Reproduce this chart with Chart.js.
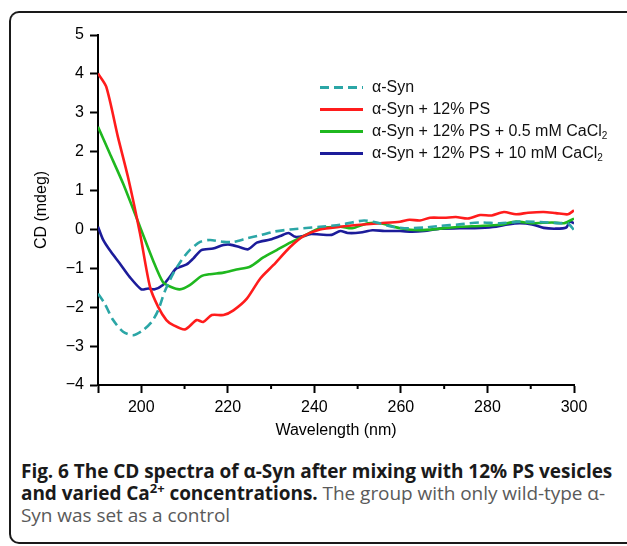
<!DOCTYPE html>
<html>
<head>
<meta charset="utf-8">
<title>CD spectra of α-Syn</title>
<script src="https://cdn.jsdelivr.net/npm/chart.js"></script>
<style>
    html, body {
        margin: 0;
        padding: 0;
        background: #fff;
        width: 627px;
        height: 546px;
        overflow: hidden;
    }
    .frame {
        position: absolute;
        left: 9px;
        top: 11px;
        width: 640px;
        height: 529px;
        border: 2px solid #1a1a1a;
        border-right: none;
        border-radius: 10px 0 0 10px;
    }
    .chart-box {
        position: absolute;
        left: 0;
        top: 0;
        width: 627px;
        height: 440px;
    }
    .legend {
        position: absolute;
        left: 320px;
        top: 76px;
        font-family: 'Liberation Sans', Arial, sans-serif;
        font-size: 16px;
        color: #111;
    }
    .legend-row {
        height: 22px;
        display: flex;
        align-items: center;
        white-space: nowrap;
    }
    .legend-line {
        width: 43px;
        height: 3px;
        margin-right: 9px;
    }
    .legend sub {
        font-size: 10px;
        vertical-align: -3px;
    }
    .caption {
        position: absolute;
        left: 21px;
        top: 460px;
        font-family: 'Open Sans', sans-serif;
        font-size: 19px;
        line-height: 22px;
        color: #5a5a5a;
        white-space: nowrap;
        letter-spacing: -0.05px;
    }
    .caption b {
        color: #1a1a1a;
    }
    .caption sup {
        font-size: 13px;
        vertical-align: 7px;
        line-height: 0;
    }
</style>
</head>
<body>
    <div class="frame"></div>
    <div class="chart-box">
        <canvas id="cdChart" width="627" height="440"></canvas>
    </div>
    <div class="legend" id="legend"></div>
    <div class="caption">
        <b>Fig. 6 The CD spectra of α-Syn after mixing with 12% PS vesicles<br>
        and varied Ca<sup>2+</sup> concentrations.</b> The group with only wild-type α-<br>
        Syn was set as a control
    </div>

    <script>
        // данные
        const seriesNames = [
            'α-Syn',
            'α-Syn + 12% PS',
            'α-Syn + 12% PS + 0.5 mM CaCl2',
            'α-Syn + 12% PS + 10 mM CaCl2'
        ];

        const synX = [190, 191.5, 193.5, 195.8, 198.1, 200.4, 202.4, 203.9, 205.4, 207.4, 209.3, 211.2, 213.6, 215.9, 219, 221.3, 224.4, 227.5, 230.5, 234.4, 237.5, 241.3, 246, 248.7, 251.5, 254.3, 258, 261.7, 265.4, 269, 273.6, 278.3, 282.9, 287.5, 292.2, 296.8, 298.6, 300];
        const synY = [-1.65, -1.9, -2.33, -2.63, -2.72, -2.59, -2.38, -2.08, -1.6, -1.13, -0.79, -0.53, -0.32, -0.27, -0.32, -0.32, -0.23, -0.15, -0.06, 0, 0.03, 0.07, 0.12, 0.18, 0.23, 0.18, 0.07, 0.03, 0.05, 0.09, 0.13, 0.18, 0.16, 0.2, 0.19, 0.16, 0.16, -0.02];

        const psX = [190, 191.9, 194.6, 196.9, 199.7, 202, 203.9, 205.8, 207.4, 210.1, 212.8, 214.3, 216.3, 219, 221.3, 224.4, 227.5, 230.5, 234.4, 237.5, 241.3, 246, 250.6, 255.2, 259.8, 262, 264.4, 266.7, 270, 272.7, 275.5, 278.3, 281, 283.8, 286.6, 289.4, 293, 295.8, 298.6, 300];
        const psY = [4.01, 3.67, 2.38, 1.36, -0.1, -1.47, -1.99, -2.33, -2.46, -2.57, -2.33, -2.38, -2.2, -2.2, -2.08, -1.78, -1.26, -0.92, -0.45, -0.17, 0, 0.07, 0.12, 0.16, 0.2, 0.25, 0.23, 0.3, 0.3, 0.32, 0.28, 0.37, 0.36, 0.45, 0.39, 0.43, 0.45, 0.42, 0.39, 0.49];

        const ca05X = [190, 192.7, 195.8, 199.7, 202.7, 205, 206.9, 208.9, 211.2, 213.9, 215.9, 219, 222, 225.1, 228.2, 231.3, 234.4, 237.5, 241.3, 246, 248.7, 252.4, 255.2, 259.8, 264.4, 269, 273.6, 278.3, 282.9, 286.6, 290.3, 294.9, 297.7, 300];
        const ca05Y = [2.64, 1.96, 1.18, 0.07, -0.79, -1.35, -1.48, -1.54, -1.43, -1.2, -1.15, -1.11, -1.03, -0.96, -0.72, -0.53, -0.34, -0.17, 0.03, 0.07, 0.03, 0.16, 0.16, 0.03, -0.02, 0.02, 0.07, 0.09, 0.12, 0.2, 0.16, 0.18, 0.16, 0.28];

        const ca10X = [190, 191.2, 192.7, 195, 197.3, 200, 201.6, 203.1, 205, 206.6, 208.1, 210.5, 212, 213.9, 216.6, 219, 220.5, 222.8, 224.7, 226.7, 229.8, 232.1, 234, 235.6, 237.5, 239, 241.3, 244, 246, 247.7, 250.6, 253.4, 256.2, 259.8, 262.6, 265.4, 269, 273.6, 278.3, 282, 284.7, 287.5, 290.3, 293, 295.8, 298.2, 299, 300];
        const ca10Y = [0.07, -0.27, -0.53, -0.87, -1.22, -1.54, -1.52, -1.54, -1.43, -1.22, -1.0, -0.9, -0.75, -0.53, -0.49, -0.4, -0.39, -0.46, -0.51, -0.34, -0.26, -0.17, -0.09, -0.19, -0.17, -0.12, -0.13, -0.14, -0.04, -0.09, -0.08, -0.02, -0.04, -0.04, -0.06, -0.04, 0.02, 0.03, 0.04, 0.07, 0.13, 0.16, 0.13, 0.04, 0.02, 0.05, 0.2, 0.16];

        const xTicks = [190, 200, 220, 240, 260, 280, 300];
        const xMinorTicks = [210, 230, 250, 270, 290];
        const yTicks = [-4, -3, -2, -1, 0, 1, 2, 3, 4, 5];

        const colors = ['#2ba6a6', '#ff1c1c', '#1fb81f', '#1c1c9a'];
        const dashes = [[9, 5], [], [], []];

        function toPoints(xs, ys) {
            return xs.map((x, i) => ({ x: x, y: ys[i] }));
        }

        const allX = [synX, psX, ca05X, ca10X];
        const allY = [synY, psY, ca05Y, ca10Y];

        const datasets = seriesNames.map((name, i) => ({
            label: name,
            data: toPoints(allX[i], allY[i]),
            borderColor: colors[i],
            borderWidth: 2.6,
            borderDash: dashes[i],
            pointRadius: 0,
            tension: 0.25,
            fill: false
        }));

        // Рисуем мелкие засечки на оси X
        const minorTicksPlugin = {
            id: 'minorTicks',
            afterDraw(chart) {
                const sx = chart.scales.x;
                const ctx = chart.ctx;
                ctx.save();
                ctx.strokeStyle = '#000';
                ctx.lineWidth = 2;
                xMinorTicks.forEach(v => {
                    const px = sx.getPixelForValue(v);
                    ctx.beginPath();
                    ctx.moveTo(px, sx.top);
                    ctx.lineTo(px, sx.top + 4);
                    ctx.stroke();
                });
                ctx.restore();
            }
        };

        const tickFont = { family: "'Liberation Sans', Arial, sans-serif", size: 16 };

        new Chart(document.getElementById('cdChart'), {
            type: 'line',
            data: { datasets: datasets },
            options: {
                responsive: false,
                animation: false,
                layout: { padding: { top: 35, right: 53, bottom: 0, left: 0 } },
                plugins: {
                    legend: { display: false },
                    tooltip: { enabled: false }
                },
                scales: {
                    x: {
                        type: 'linear',
                        min: 190,
                        max: 300,
                        afterBuildTicks: scale => {
                            scale.ticks = xTicks.map(v => ({ value: v }));
                        },
                        afterFit: scale => { scale.height = 55; },
                        ticks: {
                            color: '#000',
                            font: tickFont,
                            padding: 5,
                            maxRotation: 0,
                            callback: v => (v === 190 ? '' : v)
                        },
                        grid: {
                            drawOnChartArea: false,
                            tickLength: 8,
                            tickColor: '#000',
                            tickWidth: 2
                        },
                        border: { color: '#000', width: 2 },
                        title: {
                            display: true,
                            text: 'Wavelength (nm)',
                            color: '#000',
                            font: tickFont,
                            padding: 0
                        }
                    },
                    y: {
                        min: -4,
                        max: 5,
                        afterBuildTicks: scale => {
                            scale.ticks = yTicks.map(v => ({ value: v }));
                        },
                        afterFit: scale => { scale.width = 98; },
                        ticks: {
                            color: '#000',
                            font: tickFont,
                            padding: 6,
                            callback: v => String(v).replace('-', '\u2212')
                        },
                        grid: {
                            drawOnChartArea: false,
                            tickLength: 8,
                            tickColor: '#000',
                            tickWidth: 2
                        },
                        border: { color: '#000', width: 2 },
                        title: {
                            display: true,
                            text: 'CD (mdeg)',
                            color: '#000',
                            font: tickFont,
                            padding: 32
                        }
                    }
                }
            },
            plugins: [minorTicksPlugin]
        });

        // легенда отдельным блоком
        const legend = document.getElementById('legend');
        seriesNames.forEach((name, i) => {
            const row = document.createElement('div');
            row.className = 'legend-row';
            const line = document.createElement('span');
            line.className = 'legend-line';
            if (dashes[i].length) {
                const d = dashes[i];
                line.style.background = `repeating-linear-gradient(90deg, ${colors[i]} 0 ${d[0]}px, transparent ${d[0]}px ${d[0] + d[1]}px)`;
            } else {
                line.style.background = colors[i];
            }
            const text = document.createElement('span');
            text.innerHTML = name.replace('CaCl2', 'CaCl<sub>2</sub>');
            row.appendChild(line);
            row.appendChild(text);
            legend.appendChild(row);
        });
    </script>
</body>
</html>
